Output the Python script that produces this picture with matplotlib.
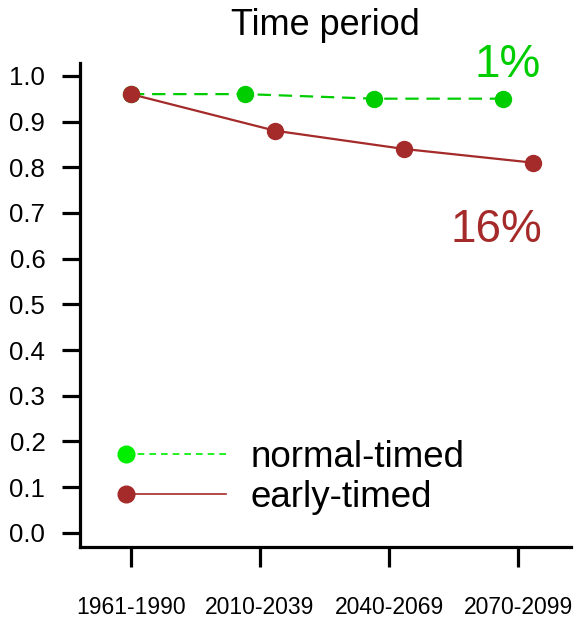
import matplotlib
matplotlib.use("Agg")
import matplotlib.pyplot as plt
import numpy as np
from matplotlib.lines import Line2D
from matplotlib.legend_handler import HandlerLine2D

plt.rcParams['font.family'] = ['Liberation Sans', 'DejaVu Sans']

# data
periods = ["1961-1990", "2010-2039", "2040-2069", "2070-2099"]
normal_timed = [0.96, 0.96, 0.95, 0.95]
early_timed = [0.96, 0.88, 0.84, 0.81]
normal_change = "1%"
early_change = "16%"
y_ticks = [0.0, 0.1, 0.2, 0.3, 0.4, 0.5, 0.6, 0.7, 0.8, 0.9, 1.0]

green = "#00cd00"
green_legend = "#00ee00"
brown = "#a52a2a"


class LeftMarkerHandler(HandlerLine2D):
    # put the legend marker at the left end of the line, like R's legend
    def create_artists(self, *args, **kwargs):
        artists = super().create_artists(*args, **kwargs)
        for a in artists:
            a.set_markevery([0])
        return artists


fig = plt.figure(figsize=(5.78, 6.18), dpi=100)
ax = fig.add_axes([0.1384, 0.1149, 0.8495, 0.7831])

x = np.arange(1, len(periods) + 1, dtype=float)
# small horizontal dodge so the two series don't overlap (first period shared)
dodge = np.where(x > 1, 0.115, 0.0)

ax.plot(x - dodge, normal_timed, color=green, lw=1.6, ls=(0, (6, 3.5)),
        marker="o", ms=11.5, mec=green, mfc=green)
ax.plot(x + dodge, early_timed, color=brown, lw=1.6, ls="-",
        marker="o", ms=11.5, mec=brown, mfc=brown)

ax.text(3.92, 0.998, normal_change, color=green, fontsize=33,
        ha="center", va="baseline", clip_on=False)
ax.text(3.83, 0.637, early_change, color=brown, fontsize=33,
        ha="center", va="baseline")

ax.set_xlim(0.605, 4.41)
ax.set_ylim(-0.031, 1.028)
ax.set_xticks(x)
ax.set_xticklabels(periods)
ax.set_yticks(y_ticks)
ax.set_yticklabels([f"{v:.1f}" for v in y_ticks])

for side in ["top", "right"]:
    ax.spines[side].set_visible(False)
for side in ["left", "bottom"]:
    ax.spines[side].set_linewidth(2.3)

ax.tick_params(axis="y", length=13, width=2.3, pad=12, labelsize=18.5)
ax.tick_params(axis="x", length=14.5, width=2.3, pad=21, labelsize=16.5)

ax.set_title("Time period", fontsize=26, pad=20)

handles = [
    Line2D([], [], color=green_legend, lw=1.2, ls=(0, (4, 3)),
           marker="o", ms=12, mfc=green_legend, mec=green_legend),
    Line2D([], [], color=brown, lw=1.2, ls="-",
           marker="o", ms=12, mfc=brown, mec=brown),
]
ax.legend(handles, ["normal-timed", "early-timed"],
          handler_map={Line2D: LeftMarkerHandler(numpoints=1)},
          loc="center left", bbox_to_anchor=(0.094, 0.144),
          frameon=False, fontsize=26.5, handlelength=2.7,
          handletextpad=0.67, labelspacing=0.15, borderpad=0,
          borderaxespad=0)

fig.savefig("out.png", dpi=100)
